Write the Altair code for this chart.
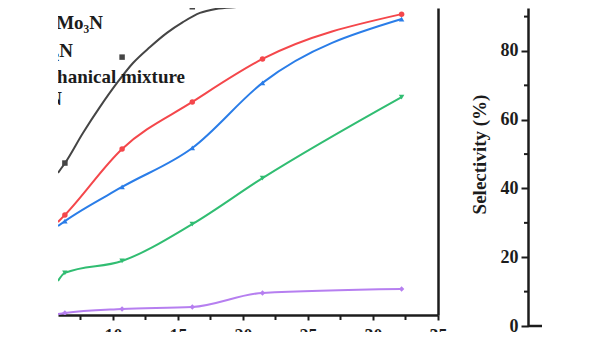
import altair as alt
import pandas as pd

# ---------------- data ----------------
x_points = [6.3, 10.7, 16.1, 21.5, 32.2]
x_edge = 5.77  # where the curves leave the cropped left edge

series_names = ["black", "red", "blue", "green", "purple"]
series_colors = ["#454545", "#f4474b", "#2a7de8", "#31bd72", "#b67ff0"]
series_shapes = ["square", "circle", "triangle-up", "triangle-down", "diamond"]

red_vals = [32.6, 54.1, 69.4, 83.4, 98.0]
blue_vals = [30.6, 41.7, 54.4, 75.6, 96.4]
green_vals = [13.7, 17.6, 29.6, 44.6, 71.0]
purple_vals = [0.65, 1.95, 2.6, 7.2, 8.5]
black_vals = [49.5, 84.0, 100.4]

edge_vals = {"red": 30.3, "blue": 29.0, "green": 11.1, "purple": 0.3}

# black smoothed curve
black_curve_x = [5.77, 6.31, 7.69, 9.0, 10.31, 11.54, 12.85, 14.15, 15.38, 16.69, 17.92, 19.5, 21.08]
black_curve_y = [46.3, 49.5, 59.3, 67.8, 75.6, 82.1, 87.3, 91.9, 95.4, 98.4, 99.7, 100.3, 100.7]

legend_labels = ["Co₃Mo₃N", "Mo₂N", "Mechanical mixture", "Co₄N"]

x_major = [10, 15, 20, 25, 30, 35]
x_minor = [7.5, 12.5, 17.5, 22.5, 27.5, 32.5]
sel_major = [0, 20, 40, 60, 80]
sel_minor = [10, 30, 50, 70, 90]
sel_axis_title = "Selectivity (%)"

# ---------------- tables ----------------
series_vals = {"red": red_vals, "blue": blue_vals, "green": green_vals,
               "purple": purple_vals, "black": black_vals}

pts_rows = []
for s in series_names:
    for xv, yv in zip(x_points, series_vals[s]):
        pts_rows.append({"x": xv, "y": yv, "series": s})
pts = pd.DataFrame(pts_rows)

line_rows = []
for s in ["purple", "green", "blue", "red"]:
    line_rows.append({"x": x_edge, "y": edge_vals[s], "series": s})
    for xv, yv in zip(x_points, series_vals[s]):
        line_rows.append({"x": xv, "y": yv, "series": s})
lines_df = pd.DataFrame(line_rows)

black_df = pd.DataFrame({"x": black_curve_x, "y": black_curve_y, "series": "black"})

FONT = "Liberation Serif"
TXT = "#1c1c1c"

xscale = alt.Scale(domain=[5.77, 35], nice=False, zero=False)
yscale = alt.Scale(domain=[0, 100], nice=False, zero=False)
cscale = alt.Scale(domain=series_names, range=series_colors)
sscale = alt.Scale(domain=series_names, range=series_shapes)
selscale = alt.Scale(domain=[0, 92.5], range=[318, 0], nice=False, zero=False)

x_axis = alt.Axis(
    values=x_major, title=None, grid=False, orient="bottom", zindex=0,
    labelFont=FONT, labelFontSize=18, labelFontWeight="bold", labelColor=TXT,
    labelPadding=7, labelFlush=False, labelOverlap=False,
    tickSize=5, tickWidth=2, tickColor=TXT, domainWidth=2.5, domainColor=TXT,
)
y_axis = alt.Axis(orient="right", labels=False, ticks=False, title=None, grid=False,
                  domainWidth=2.5, domainColor=TXT, zindex=0)

lines = alt.Chart(lines_df).mark_line(strokeWidth=2, interpolate="monotone", clip=True).encode(
    x=alt.X("x:Q", scale=xscale, axis=x_axis),
    y=alt.Y("y:Q", scale=yscale, axis=y_axis),
    color=alt.Color("series:N", scale=cscale, legend=None),
    detail="series:N",
)

black_line = alt.Chart(black_df).mark_line(strokeWidth=2, interpolate="monotone", clip=True).encode(
    x=alt.X("x:Q", scale=xscale),
    y=alt.Y("y:Q", scale=yscale),
    color=alt.Color("series:N", scale=cscale, legend=None),
)

points = alt.Chart(pts).mark_point(filled=True, size=30, opacity=1, clip=True).encode(
    x=alt.X("x:Q", scale=xscale),
    y=alt.Y("y:Q", scale=yscale),
    color=alt.Color("series:N", scale=cscale, legend=None),
    shape=alt.Shape("series:N", scale=sscale, legend=None),
)

# minor ticks of the bottom axis
x_minor_ticks = alt.Chart(pd.DataFrame({"x": x_minor})).mark_rule(
    strokeWidth=2, color=TXT, clip=False).encode(
    x=alt.X("x:Q", scale=xscale), y=alt.value(307), y2=alt.value(312),
)

legend_pos = [(45, 21), (15, 49), (127, 75), (4, 97)]
texts = []
for lab, (tx, ty) in zip(legend_labels, legend_pos):
    texts.append(
        alt.Chart().mark_text(text=lab, align="right", baseline="alphabetic", font=FONT,
                              fontSize=19, fontWeight="bold", color=TXT, clip=True)
        .encode(x=alt.value(tx), y=alt.value(ty))
    )

inner = alt.layer(lines, black_line, points, x_minor_ticks, *texts)

sel_axis = alt.Axis(
    orient="left", offset=-470, values=sel_major, grid=False, zindex=0,
    title=sel_axis_title, titleFont=FONT, titleFontSize=19, titleFontWeight="bold",
    titleColor=TXT, titlePadding=11, titleY=146,
    labelFont=FONT, labelFontSize=18, labelFontWeight="bold", labelColor=TXT, labelPadding=3,
    labelFlush=False, labelOverlap=False,
    tickSize=7, tickWidth=2, tickColor=TXT, domainWidth=2.5, domainColor=TXT,
)
sel_base = alt.Chart(pd.DataFrame({"sel": [0]})).mark_rule(
    strokeWidth=2.5, color=TXT, clip=False).encode(
    y=alt.Y("sel:Q", scale=selscale, axis=sel_axis),
    x=alt.value(470), x2=alt.value(484),
)
sel_minor_ticks = alt.Chart(pd.DataFrame({"sel": sel_minor})).mark_rule(
    strokeWidth=2, color=TXT, clip=False).encode(
    y=alt.Y("sel:Q", scale=selscale), x=alt.value(466), x2=alt.value(470),
)
sel_layer = alt.layer(sel_base, sel_minor_ticks)

mask = alt.Chart().mark_rect(color="white", clip=False).encode(
    x=alt.value(-58), x2=alt.value(542), y=alt.value(324), y2=alt.value(331),
)

chart = alt.layer(inner, sel_layer, mask).resolve_scale(y="independent").properties(
    width=380, height=307,
    padding={"left": 58, "top": 8, "right": 162, "bottom": 23},
    autosize=alt.AutoSizeParams(type="none"),
    background="white",
).configure_view(stroke=None)

chart.save("out.html", embed_options={"renderer": "svg", "actions": False})
